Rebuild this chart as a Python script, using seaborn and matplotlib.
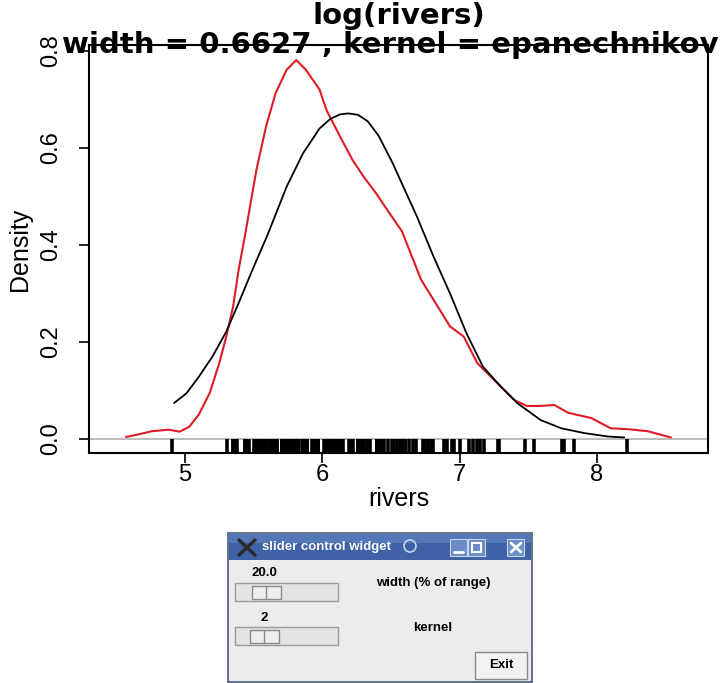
import numpy as np
import pandas as pd
import seaborn as sns
import matplotlib.pyplot as plt
from matplotlib.patches import Rectangle

# river lengths (miles) -> shown as log(rivers) in the rug
rivers = [735, 320, 325, 392, 524, 450, 1459, 135, 465, 600, 330, 336, 280, 315, 870,
          906, 202, 329, 290, 1000, 600, 505, 1450, 840, 1243, 890, 350, 407, 286, 280,
          525, 720, 390, 250, 327, 230, 265, 850, 210, 630, 260, 230, 360, 730, 600,
          306, 390, 420, 291, 710, 340, 217, 281, 352, 259, 250, 470, 680, 570, 350,
          300, 560, 900, 625, 332, 2348, 1171, 3710, 2315, 2533, 780, 280, 410, 460,
          260, 255, 431, 350, 760, 618, 338, 981, 1306, 500, 696, 605, 250, 411, 1054,
          735, 233, 435, 490, 310, 460, 383, 375, 1270, 545, 445, 1885, 380, 300, 380,
          377, 425, 276, 210, 800, 420, 350, 360, 538, 1100, 1205, 314, 237, 610, 360,
          540, 1038, 424, 310, 300, 444, 301, 268, 620, 215, 652, 900, 525, 246, 360,
          529, 500, 720, 270, 430, 671, 1770]

# red density curve
red_x = [4.57, 4.67, 4.76, 4.88, 4.96, 5.03, 5.10, 5.18, 5.25, 5.30, 5.35, 5.39, 5.44,
         5.52, 5.59, 5.66, 5.74, 5.81, 5.88, 5.98, 6.03, 6.13, 6.22, 6.30, 6.39, 6.49,
         6.58, 6.72, 6.81, 6.93, 7.03, 7.13, 7.25, 7.40, 7.49, 7.59, 7.69, 7.79, 7.96,
         8.10, 8.23, 8.37, 8.54]
red_y = [0.004, 0.010, 0.016, 0.019, 0.015, 0.025, 0.050, 0.095, 0.157, 0.211, 0.273,
         0.348, 0.425, 0.555, 0.644, 0.713, 0.761, 0.781, 0.761, 0.720, 0.678, 0.623,
         0.575, 0.541, 0.507, 0.465, 0.428, 0.328, 0.287, 0.232, 0.211, 0.156, 0.122,
         0.080, 0.068, 0.068, 0.070, 0.054, 0.043, 0.022, 0.020, 0.016, 0.003]

# black curve: epanechnikov, width = 0.6627
blk_x = [4.92, 5.01, 5.10, 5.20, 5.30, 5.39, 5.49, 5.60, 5.74, 5.86, 5.98, 6.06, 6.13,
         6.19, 6.26, 6.33, 6.41, 6.51, 6.59, 6.69, 6.81, 6.93, 7.05, 7.17, 7.30, 7.42,
         7.59, 7.74, 7.91, 8.08, 8.20]
blk_y = [0.074, 0.094, 0.128, 0.170, 0.221, 0.280, 0.348, 0.420, 0.520, 0.589, 0.640,
         0.660, 0.669, 0.671, 0.668, 0.655, 0.625, 0.570, 0.520, 0.458, 0.376, 0.300,
         0.218, 0.149, 0.108, 0.074, 0.039, 0.022, 0.012, 0.005, 0.003]

x_ticks = [5, 6, 7, 8]
y_ticks = [0.0, 0.2, 0.4, 0.6, 0.8]

sns.set_style("white")
plt.rcParams['font.family'] = ['Liberation Sans', 'DejaVu Sans']
plt.rcParams['text.color'] = 'black'
plt.rcParams['axes.labelcolor'] = 'black'
plt.rcParams['xtick.color'] = 'black'
plt.rcParams['ytick.color'] = 'black'

W, H = 725, 683
fig = plt.figure(figsize=(W / 100, H / 100), dpi=100)

# widget layer in pixel coordinates
axw = fig.add_axes([0, 0, 1, 1], zorder=0)
axw.set_xlim(0, W)
axw.set_ylim(H, 0)
axw.axis("off")

# main plot
ax = fig.add_axes([89 / W, 1 - 453 / H, 619 / W, 408 / H], zorder=1)
ax.axhline(0, color="#bdbdbd", lw=1.5, zorder=1)
sns.rugplot(x=np.log(rivers), height=0.034, color="black", linewidth=2.6, ax=ax, zorder=2)
sns.lineplot(x=red_x, y=red_y, sort=False, color="#dd1c25", lw=1.5, ax=ax, zorder=3)
sns.lineplot(x=blk_x, y=blk_y, sort=False, color="black", lw=1.3, ax=ax, zorder=4)

ax.set_xlim(4.30, 8.81)
ax.set_ylim(-0.029, 0.812)
ax.set_xticks(x_ticks)
ax.set_xticklabels([str(v) for v in x_ticks], fontsize=17)
ax.set_yticks(y_ticks)
ax.set_yticklabels([f"{v:.1f}" for v in y_ticks], fontsize=17, rotation=90, va="center")
ax.tick_params(axis="x", direction="out", length=7, width=1.2, pad=1, bottom=True)
ax.tick_params(axis="y", direction="out", length=7, width=1.2, pad=12, left=True)
ax.set_xlabel("rivers", fontsize=18, labelpad=1)
ax.set_ylabel("Density", fontsize=18, labelpad=6)
for s in ax.spines.values():
    s.set_color("black")
    s.set_linewidth(1.5)

fig.text(399 / W, 1 - 24 / H, "log(rivers)", ha="center", va="baseline",
         fontsize=21, fontweight="bold", family="DejaVu Sans")
fig.text(390 / W, 1 - 45 / H, "width = 0.6627 , kernel = epanechnikov", ha="center",
         va="center", fontsize=21, fontweight="bold", family="DejaVu Sans", zorder=5)

# slider control widget (decoration)
axw.add_patch(Rectangle((228, 533), 304, 149, facecolor="#ececec", edgecolor="#4a5a78", lw=1.2))
axw.add_patch(Rectangle((229, 534), 302, 26, facecolor="#3f62a6", edgecolor="none"))
axw.add_patch(Rectangle((229, 534), 302, 9, facecolor="#5477b9", edgecolor="none"))
axw.plot([239, 255], [540, 555], color="#2a2a2a", lw=2.5)
axw.plot([239, 255], [555, 540], color="#2a2a2a", lw=2.5)
axw.text(262, 547, "slider control widget", color="white", fontsize=9.5, fontweight="bold",
         va="center", ha="left")
axw.add_patch(plt.Circle((410, 546), 6, facecolor="none", edgecolor="#c8d4ec", lw=1.2))
for bx in (450, 468, 507):
    axw.add_patch(Rectangle((bx, 539), 17, 17, facecolor="#6b8cc8", edgecolor="#c8d4ec", lw=0.8))
axw.plot([454, 463], [552, 552], color="white", lw=2)
axw.add_patch(Rectangle((472, 543), 9, 9, facecolor="none", edgecolor="white", lw=1.5))
axw.plot([511, 521], [543, 552], color="white", lw=2)
axw.plot([511, 521], [552, 543], color="white", lw=2)

for lab, ty, sy, tx in (("20.0", 573, 583, 252), ("2", 618, 627, 250)):
    axw.text(264, ty, lab, fontsize=9.5, fontweight="bold", ha="center", va="center")
    axw.add_patch(Rectangle((235, sy), 103, 18, facecolor="#e4e4e4", edgecolor="#9a9a9a", lw=1))
    axw.add_patch(Rectangle((tx, sy + 3), 29, 13, facecolor="#eeeeee", edgecolor="#8a8a8a", lw=1))
    axw.plot([tx + 14, tx + 14], [sy + 3, sy + 16], color="#8a8a8a", lw=1)

axw.text(433, 583, "width (% of range)", fontsize=9.5, fontweight="bold", ha="center", va="center")
axw.text(433, 628, "kernel", fontsize=9.5, fontweight="bold", ha="center", va="center")
axw.add_patch(Rectangle((475, 652), 52, 27, facecolor="#f2f2f2", edgecolor="#8a8a8a", lw=1))
axw.text(501, 665, "Exit", fontsize=9.5, fontweight="bold", ha="center", va="center")

fig.savefig("out.png", dpi=100)
